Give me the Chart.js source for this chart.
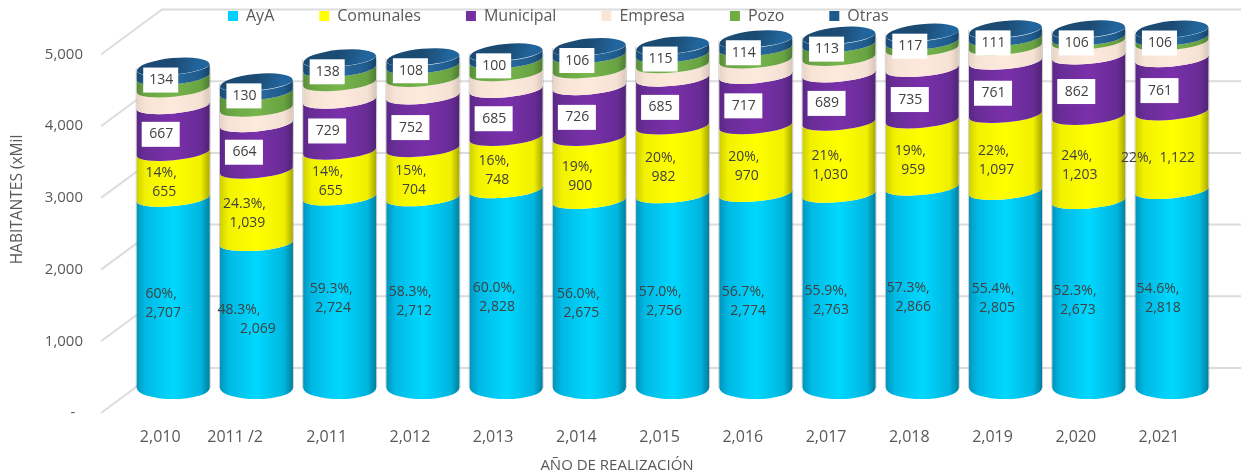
<!DOCTYPE html>
<html><head><meta charset="utf-8">
<style>html,body{margin:0;padding:0;background:#fff}canvas{display:block}</style>
<script src="https://cdn.jsdelivr.net/npm/chart.js@4"></script>
</head><body><canvas id="c" width="1241" height="475"></canvas>
<script>
const categories = ['2,010','2011 /2','2,011','2,012','2,013','2,014','2,015','2,016','2,017','2,018','2,019','2,020','2,021'];
const ayaValues = [2707,2069,2724,2712,2828,2675,2756,2774,2763,2866,2805,2673,2818];
const comunalesValues = [655,1039,655,704,748,900,982,970,1030,959,1097,1203,1122];
const municipalValues = [667,664,729,752,685,726,685,717,689,735,761,862,761];
const empresaValues = [240,220,250,250,240,240,190,220,235,290,210,210,235];
const pozoValues = [175,230,200,185,180,210,150,173,190,95,125,55,65];
const otrasValues = [134,130,138,108,100,106,115,114,113,117,111,106,106];
const ayaPct = ['60%,','48.3%,','59.3%,','58.3%,','60.0%,','56.0%,','57.0%,','56.7%,','55.9%,','57.3%,','55.4%,','52.3%,','54.6%,'];
const comunalesPct = ['14%,','24.3%,','14%,','15%,','16%,','19%,','20%,','20%,','21%,','19%,','22%,','24%,','22%,'];
const seriesNames = ['AyA','Comunales','Municipal','Empresa','Pozo','Otras'];
const yTickValues = [0,1000,2000,3000,4000,5000];
// small hand-placement nudges of the AyA labels (the source chart has them moved by hand)
const ayaNudgeY = [10,4,6,8,8,9,10,11,9,10,9,6,9];
const ayaPctNudgeX = [-12,-17.5,-8.5,-12.7,-12,-11,-12.5,-12.7,-13,-14,-12.4,-13.7,-14];
const ayaValNudgeX = [-10,1.5,-6.5,-8.7,-9,-8,-8.5,-7.7,-8,-9,-8.4,-10.7,-9];

const solid = ['#00CFFF','#FFFF00','#7030A0','#FBE5D6','#70AD47','#1F5A8C'];
const ramps = [
 ['#0095BC','#00B9E4','#00D8FF','#00B5DE','#007F9F'],
 ['#D0D000','#F2F200','#FFFF00','#F0F000','#A8A800'],
 ['#5A2785','#6A2D98','#7A30AA','#682C96','#4F2374'],
 ['#E8D4C6','#F8E4D6','#FDEADC','#F6E2D4','#D8C6B8'],
 ['#5A8C3A','#6AA544','#78B54C','#68A242','#4E7C32'],
 ['#184A74','#1F5A8C','#2A6AA0','#1F5A8C','#164265']
];
const RY = 7.5, RY_BASE = 11, RY_CAP = 8.5, TILT_RATE = 0.035, TILT_MAX = 7;
const fmt = v => v.toLocaleString('en-US');

function tiltFor(h){ return -Math.min(TILT_MAX, h*TILT_RATE); }
function rampFor(ctx,x,w,r){
  const g = ctx.createLinearGradient(x-w/2,0,x+w/2,0);
  [0,.12,.5,.88,1].forEach((s,i)=>g.addColorStop(s,r[i]));
  return g;
}
const gridPlugin = {
  id:'gridWalls',
  beforeDraw(chart){
    const {ctx} = chart, t = chart.scales.yTicks;
    ctx.save(); ctx.strokeStyle='#DCDCDC'; ctx.lineWidth=2;
    t.ticks.forEach(k=>{
      const y = t.getPixelForValue(k.value);
      ctx.beginPath(); ctx.moveTo(101,y); ctx.lineTo(162,y-45); ctx.lineTo(chart.width,y-45); ctx.stroke();
    });
    ctx.restore();
  },
  afterLayout(chart){
    const l = chart.legend, s = chart.scales.yTicks;
    l.top = 17 - 9 - chart.options.plugins.legend.labels.padding;
    l.left = 228 - chart.options.plugins.legend.labels.padding;
    if(!s._shifted){
      const f = s.drawTitle.bind(s);
      s.drawTitle = (...a)=>{ chart.ctx.save(); chart.ctx.translate(0,-23); f(...a); chart.ctx.restore(); };
      s._shifted = true;
    }
  },
  beforeDatasetDraw(){ return false; },
  afterDatasetsDraw(chart){
    const {ctx} = chart, zero = chart.scales.y.getPixelForValue(0);
    ctx.save();
    categories.forEach((_,i)=>{
      const n = seriesNames.length;
      const top = chart.getDatasetMeta(n-1).data[i];
      ctx.strokeStyle='rgba(120,120,120,.35)';ctx.lineWidth=1;
      ctx.beginPath();
      ctx.moveTo(top.x-top.width/2-.5,top.y);ctx.lineTo(top.x-top.width/2-.5,zero);
      ctx.moveTo(top.x+top.width/2+.5,top.y);ctx.lineTo(top.x+top.width/2+.5,zero);
      ctx.stroke();
      for(let d=0;d<n;d++){
        const el = chart.getDatasetMeta(d).data[i];
        const x=el.x,w=el.width,rx=w/2,yt=el.y,yb=el.base;
        const rt=Math.atan2(tiltFor(zero-yt),w), rb=Math.atan2(tiltFor(zero-yb),w);
        ctx.beginPath();
        ctx.moveTo(x-rx,yt-Math.sin(rt)*rx);
        ctx.lineTo(x-rx,yb-Math.sin(rb)*rx);
        ctx.ellipse(x,yb,rx,d===0?RY_BASE:RY,rb,Math.PI,0,true);
        ctx.lineTo(x+rx,yt+Math.sin(rt)*rx);
        ctx.ellipse(x,yt,rx,RY,rt,0,Math.PI,false);
        ctx.closePath();
        ctx.fillStyle=rampFor(ctx,x,w,ramps[d]);
        ctx.fill();
        if(d===n-1){
          const g=ctx.createLinearGradient(x-rx,yt-RY_CAP,x+rx*.6,yt+RY_CAP);
          g.addColorStop(0,'#1B4B73');g.addColorStop(.6,'#1B4B73');g.addColorStop(1,'#22659C');
          ctx.beginPath();ctx.ellipse(x,yt,rx,RY_CAP+1,rt,0,Math.PI,true);ctx.ellipse(x,yt,rx,RY_CAP-1.5,rt,Math.PI,0,true);ctx.closePath();ctx.fillStyle=g;ctx.fill();
        }
      }
      ctx.textAlign='center';ctx.textBaseline='middle';ctx.font='14px "Open Sans"';
      const mid=d=>{const e=chart.getDatasetMeta(d).data[i];return {x:e.x,y:(e.y+e.base)/2};};
      const a=mid(0),c=mid(1),m=mid(2),capEl=chart.getDatasetMeta(5).data[i];
      ctx.fillStyle='#404040';
      const ay=a.y+ayaNudgeY[i];
      ctx.fillText(ayaPct[i],a.x+ayaPctNudgeX[i],ay-9.5);
      ctx.fillText(fmt(ayaValues[i]),a.x+ayaValNudgeX[i],ay+9.5);
      const cy=c.y+7;
      if(i===12){ ctx.fillText(comunalesPct[i]+'  '+fmt(comunalesValues[i]),c.x-14,cy); }
      else { ctx.fillText(comunalesPct[i],c.x-12,cy-9.5); ctx.fillText(fmt(comunalesValues[i]),c.x-9,cy+9.5); }
      [[m.x,m.y+5,municipalValues[i],38],[capEl.x,capEl.y+12.5,otrasValues[i],35]].forEach(([px,py,v,bw])=>{
        ctx.fillStyle='#fff';ctx.fillRect(px-12.5-bw/2,py-12.5,bw,25);
        ctx.fillStyle='#404040';ctx.fillText(fmt(v),px-12,py);
      });
    });
    ctx.restore();
  }
};
const allValues=[ayaValues,comunalesValues,municipalValues,empresaValues,pozoValues,otrasValues];
new Chart(document.getElementById('c'),{
  type:'bar',
  data:{labels:categories,datasets:seriesNames.map((name,d)=>({
    label:name,data:allValues[d],backgroundColor:solid[d],borderWidth:0,
    yAxisID:'y',stack:'s',barPercentage:0.877,categoryPercentage:1
  }))},
  plugins:[gridPlugin],
  options:{
    responsive:false,animation:false,
    layout:{padding:{left:0,right:7,top:0,bottom:0}},
    plugins:{
      tooltip:{enabled:false},
      legend:{position:'top',align:'start',maxHeight:32,
        labels:{boxWidth:10,boxHeight:10,padding:45,color:'#595959',font:{family:'"Open Sans"',size:16}}},
      title:{display:true,position:'bottom',text:'AÑO DE REALIZACIÓN',color:'#595959',
        font:{family:'"Open Sans"',size:15,weight:'normal'},padding:0}
    },
    scales:{
      x:{stacked:true,offset:true,grid:{display:false},border:{display:false},
        ticks:{color:'#595959',font:{family:'"Open Sans"',size:16},padding:6.5,labelOffset:-13,maxRotation:0,autoSkip:false,
          callback(v,i){ return i===1 ? categories[i]+'    ' : categories[i]; }},
        afterFit(s){s.height=44;}},
      yTicks:{position:'left',min:0,max:5314,grid:{display:false},border:{display:false},
        afterBuildTicks(s){s.ticks=yTickValues.map(v=>({value:v}));},
        ticks:{color:'#595959',padding:40.6,font:{family:'"Open Sans"',size:15},
          callback:v=>v===0?'-  ':fmt(v)},
        title:{display:true,text:'HABITANTES (xMil',color:'#595959',font:{family:'"Open Sans"',size:15.5},padding:{top:8,bottom:0}},
        afterFit(s){s.width=131.6;s.paddingTop=0;s.paddingBottom=0;}},
      y:{position:'right',stacked:true,min:-357,max:5086,grid:{display:false},border:{display:false},
        ticks:{display:false},afterFit(s){s.width=20.4;s.paddingTop=0;s.paddingBottom=0;}}
    }
  }
});
</script></body></html>
